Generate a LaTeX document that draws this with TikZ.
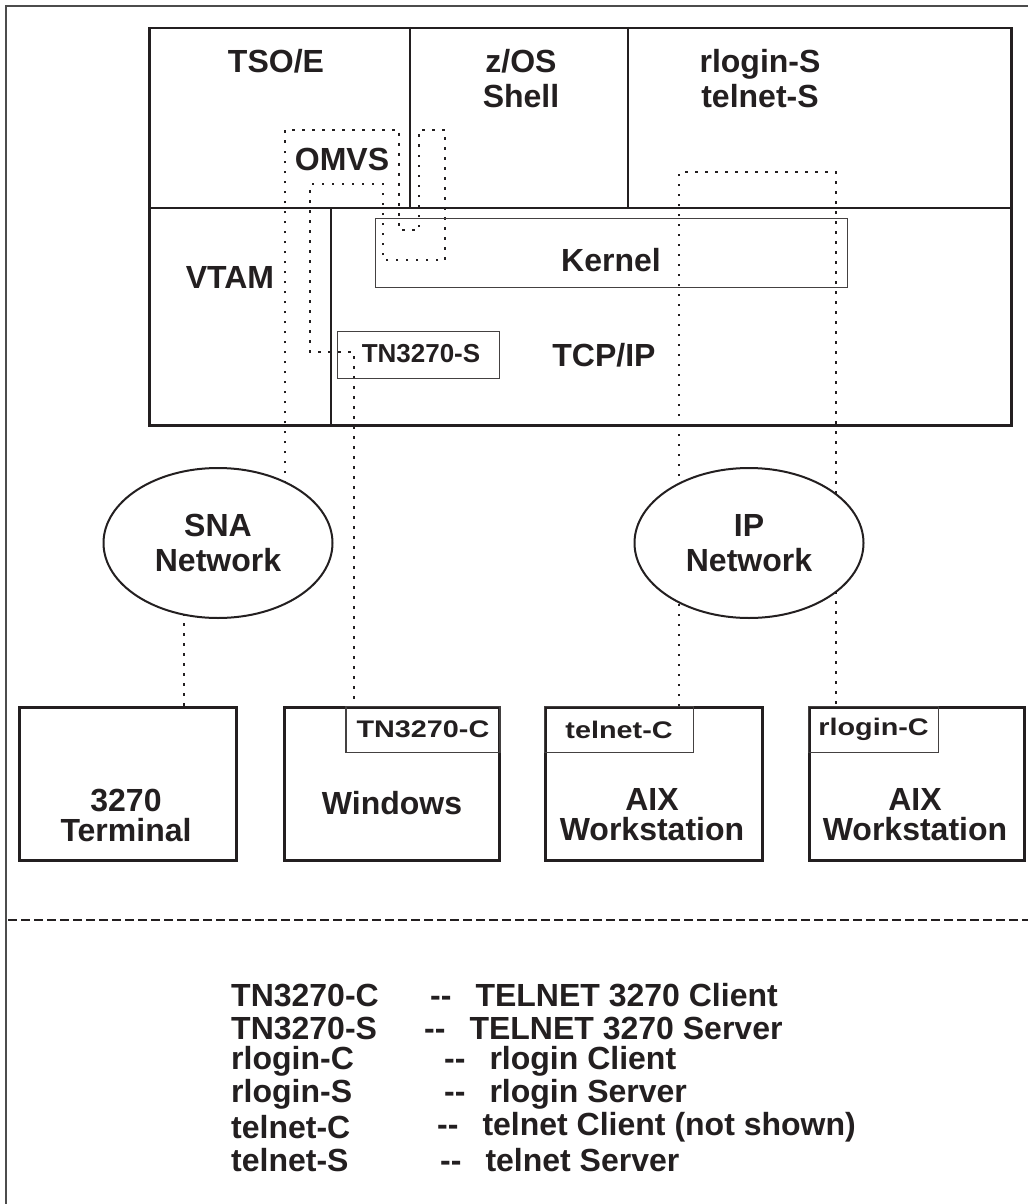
\documentclass[tikz,border=0pt]{standalone}
\usepackage{fontspec}
\setmainfont{Liberation Sans}
\usetikzlibrary{shapes.geometric}
\definecolor{ink}{HTML}{231F20}
\pgfdeclarelayer{background}
\pgfsetlayers{background,main}
\newcommand{\widetext}[1]{\scalebox{1.2}[1]{#1}}
\begin{document}
\begin{tikzpicture}[x=1pt,y=-1pt,
  box/.style={draw=ink, line width=2.5pt, inner sep=0pt},
  thinbox/.style={draw=ink!85, line width=1.1pt, inner sep=0pt},
  lbl/.style={text=ink, font=\fontsize{32}{35}\selectfont\bfseries, inner sep=0pt, align=center},
  lblb/.style={text=ink, font=\fontsize{32}{30}\selectfont\bfseries, inner sep=0pt, align=center},
  small/.style={text=ink, font=\fontsize{26}{30}\selectfont\bfseries, inner sep=0pt},
  tabtxt/.style={text=ink, font=\fontsize{24}{28}\selectfont\bfseries, inner sep=0pt},
  leg/.style={text=ink, font=\fontsize{32}{36}\selectfont\bfseries, inner sep=0pt, anchor=west},
  net/.style={ellipse, draw=ink, line width=2pt, fill=white, minimum width=229pt, minimum height=150pt, inner sep=0pt, align=center, text=ink, font=\fontsize{32}{35}\selectfont\bfseries},
  dotline/.style={draw=ink, line width=2.5pt, dash pattern=on 2.5pt off 7.5pt},
]
\useasboundingbox (0,0) rectangle (1028,1204);
% outer frame (top and left edges only)
\draw[gray!60!black, line width=1.7pt] (6,1204) -- (6,6) -- (1028,6);

% host system
\node[box, anchor=north west, minimum width=862pt, minimum height=397pt] (host) at (148,27) {};
\draw[ink, line width=2.5pt] (148,208) -- (1010,208);
\draw[ink, line width=2.5pt] (410,27) -- (410,208);
\draw[ink, line width=2.5pt] (628,27) -- (628,208);
\draw[ink, line width=2.5pt] (331,208) -- (331,424);

\node[lbl] (tso) at (276,61) {TSO/E};
\node[lbl] (zos) at (521,79) {z/OS\\Shell};
\node[lbl] (rls) at (760,79) {rlogin-S\\telnet-S};
\node[lbl] (omvs) at (342,159) {OMVS};
\node[lbl] (vtam) at (230,277) {VTAM};
\node[thinbox, anchor=north west, minimum width=472pt, minimum height=69pt] (kernelbox) at (375,218) {};
\node[lbl] (kernel) at (611,260) {Kernel};
\node[lbl] (tcpip) at (604,355) {TCP/IP};
\node[thinbox, anchor=north west, minimum width=162pt, minimum height=47pt] (tnsbox) at (337,331) {};
\node[small] (tns) at (421,354) {TN3270-S};

% networks
\node[net] (sna) at (218,543) {SNA\\Network};
\node[net] (ip) at (749,543) {IP\\Network};

% client machines
\node[box, anchor=north west, minimum width=217pt, minimum height=153pt] (term) at (18,706) {};
\node[box, anchor=north west, minimum width=215pt, minimum height=153pt] (win) at (283,706) {};
\node[box, anchor=north west, minimum width=217pt, minimum height=153pt] (aix1) at (544,706) {};
\node[box, anchor=north west, minimum width=215pt, minimum height=153pt] (aix2) at (808,706) {};
\node[thinbox, anchor=north east, minimum width=154pt, minimum height=46pt] (tncbox) at (win.north east) {};
\node[tabtxt] (tnc) at (tncbox.center) {\widetext{TN3270-C}};
\node[thinbox, anchor=north west, minimum width=149pt, minimum height=46pt] (telcbox) at (aix1.north west) {};
\node[tabtxt] (telc) at (telcbox.center) {\widetext{telnet-C}};
\node[thinbox, anchor=north west, minimum width=130pt, minimum height=46pt] (rlcbox) at (aix2.north west) {};
\node[tabtxt] (rlc) at (rlcbox.center) {\widetext{rlogin-C}};
\node[lblb] (termtxt) at (126,815) {3270\\Terminal};
\node[lbl] (wintxt) at (392,803) {Windows};
\node[lblb] (aix1txt) at (652,815) {AIX\\Workstation};
\node[lblb] (aix2txt) at (915,815) {AIX\\Workstation};

% dotted connections (behind the network clouds)
\coordinate (d1) at (285,130);
\coordinate (d2) at (399,130);
\coordinate (d3) at (399,230);
\coordinate (d4) at (419,230);
\coordinate (d5) at (419,130);
\coordinate (d6) at (445,130);
\coordinate (d7) at (445,260);
\coordinate (d8) at (383,260);
\coordinate (d9) at (383,184);
\coordinate (d10) at (310,184);
\coordinate (d11) at (310,352);
\coordinate (d12) at (354,352);
\coordinate (e1) at (679,172);
\coordinate (e2) at (836,172);
\coordinate (f1) at (184,600);
\begin{pgfonlayer}{background}
\draw[dotline] (sna.center -| d1) -- (d1) -- (d2) -- (d3) -- (d4) -- (d5) -- (d6) -- (d7) -- (d8) -- (d9) -- (d10) -- (d11) -- (d12) -- (win.north -| d12);
\draw[dotline] (aix1.north -| e1) -- (e1) -- (e2) -- (aix2.north -| e2);
\draw[dotline] (sna.center -| f1) -- (term.north -| f1);
\end{pgfonlayer}

% separator
\draw[ink, line width=2pt, dash pattern=on 9pt off 4pt] (8,920) -- (1028,920);

% legend
\node[leg] (k1) at (231,995) {TN3270-C};
\node[leg] (v1) at (430,995) {-{}-\hspace{24pt}TELNET 3270 Client};
\node[leg] (k2) at (231,1028) {TN3270-S};
\node[leg] (v2) at (424,1028) {-{}-\hspace{24pt}TELNET 3270 Server};
\node[leg] (k3) at (231,1061) {rlogin-C};
\node[leg] (v3) at (444,1061) {-{}-\hspace{24pt}rlogin Client};
\node[leg] (k4) at (231,1094) {rlogin-S};
\node[leg] (v4) at (444,1094) {-{}-\hspace{24pt}rlogin Server};
\node[leg] (k5) at (231,1127) {telnet-C};
\node[leg] (v5) at (437,1127) {-{}-\hspace{24pt}telnet Client (not shown)};
\node[leg] (k6) at (231,1160) {telnet-S};
\node[leg] (v6) at (440,1160) {-{}-\hspace{24pt}telnet Server};
\end{tikzpicture}
\end{document}
